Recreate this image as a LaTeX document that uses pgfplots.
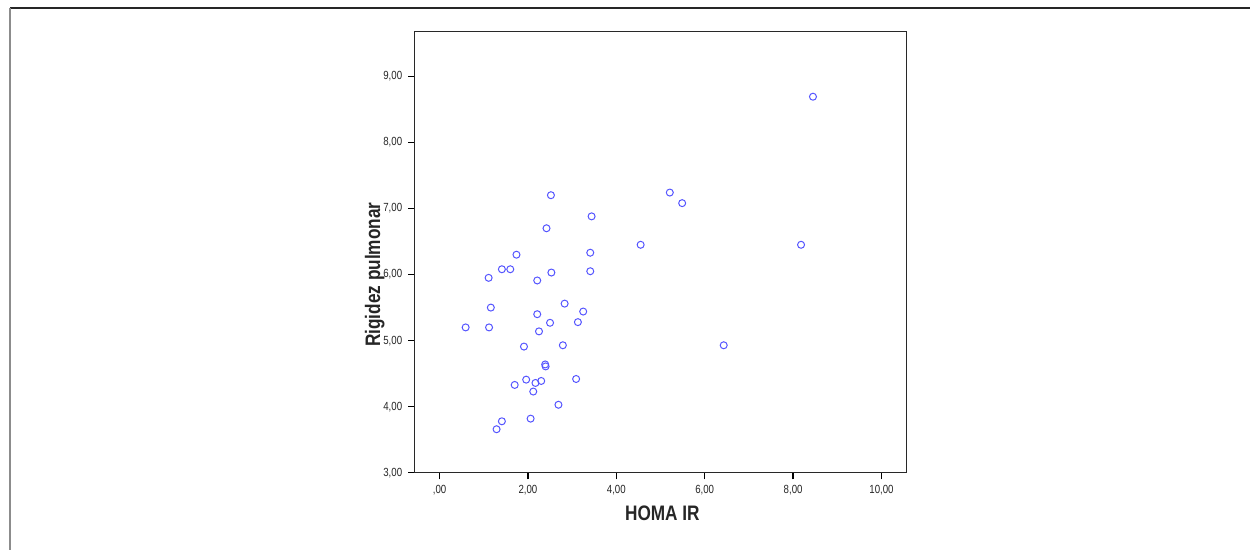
\documentclass[border=0pt]{standalone}
\usepackage{fontspec}
\setmainfont{Liberation Sans}[FakeStretch=0.82]
\usepackage{pgfplots}
\pgfplotsset{compat=1.18}
\definecolor{markblue}{RGB}{85,85,255}
\definecolor{boxgray}{RGB}{40,40,40}
\begin{document}
\begin{tikzpicture}[x=0.5pt,y=0.5pt]
% page frame, 1251 x 551 units (1 unit = 0.5pt), y upwards
\path (0,0) rectangle (1251,551);
\draw[line width=1.2pt, black!85] (10,543) -- (1251,543);
\draw[line width=1.2pt, black!45] (10,543) -- (10,0);
\begin{axis}[
  at={(207.5pt,38.85pt)}, anchor=south west,
  scale only axis,
  width=246.15pt, height=220.8pt,
  xmin=-0.565, xmax=10.565,
  ymin=3, ymax=9.674,
  axis line style={boxgray, line width=0.55pt},
  tick pos=left, tick align=outside,
  major tick length=3.3pt,
  tick style={black, line width=0.6pt},
  xtick={0,2,4,6,8,10},
  xticklabels={{,00},{2,00},{4,00},{6,00},{8,00},{10,00}},
  ytick={3,4,5,6,7,8,9},
  yticklabels={{3,00},{4,00},{5,00},{6,00},{7,00},{8,00},{9,00}},
  tick label style={font=\fontsize{5.9pt}{6pt}\selectfont, black!85},
  xticklabel style={yshift=0.8pt},
  yticklabel style={xshift=0.6pt},
  clip=false,
]
\addplot[only marks, mark=o, mark size=1.75pt, mark options={markblue, line width=0.5pt}]
  coordinates {
  (8.45,8.69) (2.52,7.20) (5.21,7.24) (5.49,7.08) (3.44,6.88) (2.42,6.70)
  (4.55,6.45) (8.18,6.45) (3.41,6.33) (1.74,6.30) (1.41,6.08) (1.60,6.08)
  (1.11,5.95) (2.53,6.03) (3.41,6.05) (2.21,5.91) (1.16,5.50) (2.83,5.56)
  (3.25,5.44) (2.21,5.40) (2.50,5.27) (3.13,5.28) (0.59,5.20) (1.12,5.20)
  (2.25,5.14) (1.91,4.91) (2.79,4.93) (6.43,4.93) (2.39,4.64) (2.40,4.61)
  (1.96,4.41) (3.09,4.42) (1.70,4.33) (2.17,4.36) (2.30,4.39) (2.12,4.23)
  (2.69,4.03) (2.06,3.82) (1.41,3.78) (1.29,3.66)
  };
\end{axis}
\node[anchor=base, font=\bfseries\fontsize{10.5pt}{12pt}\selectfont, text=black!85, inner sep=0pt]
  at (663,30.5) {HOMA IR};
\node[anchor=base, rotate=90, font=\bfseries\fontsize{10.5pt}{12pt}\selectfont, text=black!85, inner sep=0pt]
  at (380.5,276) {Rigidez pulmonar};
\end{tikzpicture}
\end{document}
